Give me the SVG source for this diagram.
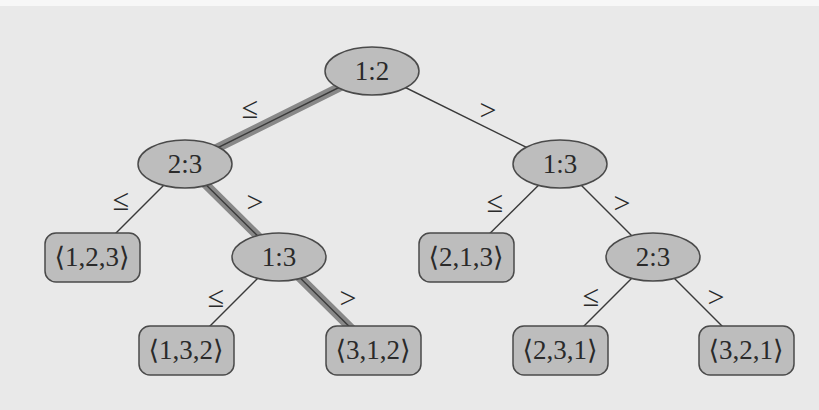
<svg xmlns="http://www.w3.org/2000/svg" width="819" height="410" viewBox="0 0 819 410">
<style>
.bg{fill:#e9e9e9}
.cmp ellipse{fill:#bdbdbd;stroke:#4a4a4a;stroke-width:1.5}
.leaf rect{fill:#bdbdbd;stroke:#4a4a4a;stroke-width:1.5}
.node text{font-family:"Liberation Serif","DejaVu Serif",serif;font-size:27px;fill:#2a2a2a;text-anchor:middle}
.edge{stroke:#3a3a3a;stroke-width:1.4;fill:none}
.hl{stroke:#888888;stroke-width:9;fill:none;stroke-linecap:butt}
.lbl{font-family:"Liberation Serif","DejaVu Serif",serif;font-size:30px;fill:#2a2a2a;text-anchor:middle}
</style>
<rect class="bg" x="0" y="0" width="819" height="410"/>
<rect x="0" y="0" width="819" height="6" fill="#f7f7f7"/>
<g id="connectors">
  <path class="hl" d="M372,71 L185,164 L279,257 L373,350"/>
  <line class="edge" x1="372" y1="71" x2="185" y2="164"/>
  <line class="edge" x1="372" y1="71" x2="560" y2="164"/>
  <line class="edge" x1="185" y1="164" x2="92" y2="257"/>
  <line class="edge" x1="185" y1="164" x2="279" y2="257"/>
  <line class="edge" x1="279" y1="257" x2="186" y2="350"/>
  <line class="edge" x1="279" y1="257" x2="373" y2="350"/>
  <line class="edge" x1="560" y1="164" x2="466" y2="257"/>
  <line class="edge" x1="560" y1="164" x2="653" y2="257"/>
  <line class="edge" x1="653" y1="257" x2="560" y2="350"/>
  <line class="edge" x1="653" y1="257" x2="746" y2="350"/>
  <text class="lbl" x="250" y="118">≤</text>
  <text class="lbl" x="488" y="120">&gt;</text>
  <text class="lbl" x="121" y="210">≤</text>
  <text class="lbl" x="255" y="212">&gt;</text>
  <text class="lbl" x="216" y="307">≤</text>
  <text class="lbl" x="348" y="308">&gt;</text>
  <text class="lbl" x="495" y="212">≤</text>
  <text class="lbl" x="622" y="213">&gt;</text>
  <text class="lbl" x="591" y="306">≤</text>
  <text class="lbl" x="716" y="307">&gt;</text>
</g>
<g id="n12" class="node cmp"><ellipse cx="372" cy="71" rx="47" ry="24"/><text x="372" y="80">1:2</text></g>
<g id="n23a" class="node cmp"><ellipse cx="185" cy="164" rx="47" ry="24"/><text x="185" y="173">2:3</text></g>
<g id="n13b" class="node cmp"><ellipse cx="560" cy="164" rx="47" ry="24"/><text x="560" y="173">1:3</text></g>
<g id="n13a" class="node cmp"><ellipse cx="279" cy="257" rx="47" ry="24"/><text x="279" y="266">1:3</text></g>
<g id="n23b" class="node cmp"><ellipse cx="653" cy="257" rx="47" ry="24"/><text x="653" y="266">2:3</text></g>
<g id="l123" class="node leaf"><rect x="45" y="233" width="95" height="49" rx="11"/><text x="92" y="266">⟨1,2,3⟩</text></g>
<g id="l213" class="node leaf"><rect x="419" y="233" width="95" height="49" rx="11"/><text x="466" y="266">⟨2,1,3⟩</text></g>
<g id="l132" class="node leaf"><rect x="139" y="326" width="95" height="49" rx="11"/><text x="186" y="359">⟨1,3,2⟩</text></g>
<g id="l312" class="node leaf"><rect x="326" y="326" width="95" height="49" rx="11"/><text x="373" y="359">⟨3,1,2⟩</text></g>
<g id="l231" class="node leaf"><rect x="513" y="326" width="95" height="49" rx="11"/><text x="560" y="359">⟨2,3,1⟩</text></g>
<g id="l321" class="node leaf"><rect x="699" y="326" width="95" height="49" rx="11"/><text x="746" y="359">⟨3,2,1⟩</text></g>
</svg>
